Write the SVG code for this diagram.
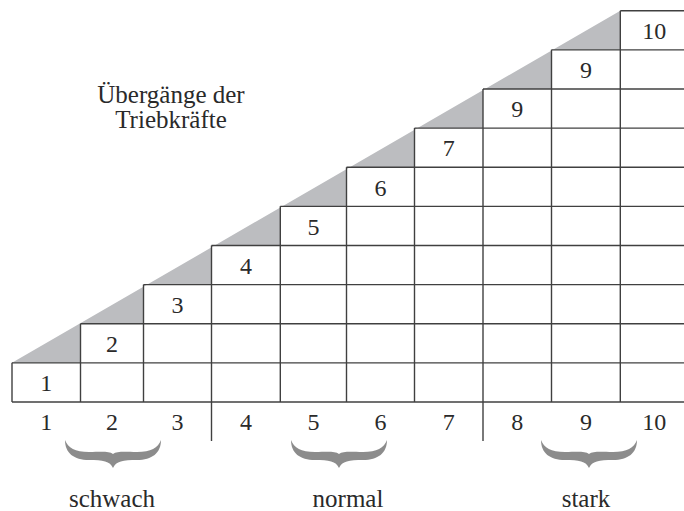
<svg xmlns="http://www.w3.org/2000/svg" width="684" height="511" viewBox="0 0 684 511">
  <style>
    .t { font-size: 24px; fill: #2a2a2a; text-anchor: middle; }
    .w { font-size: 25px; fill: #2a2a2a; text-anchor: middle; }
    .g { stroke: #404040; stroke-width: 1.4; fill: none; }
    .brace { fill: #8c8c8c; }
  </style>
  <defs>
    <path id="brace" d="M0,0 C0,13 9,20 24,20 C38,20 45,21 48,28 C51,21 58,20 72,20 C87,20 96,13 96,0 C93,8 86,12 72,12 C60,12 52,11 48,14 C44,11 36,12 24,12 C10,12 3,8 0,0 Z"/>
  </defs>
  <rect width="684" height="511" fill="#ffffff"/>

  <g id="shading">
    <polygon fill="#bcbdc0" points="12,362.87 620.3,10.7 620.3,49.83 551.5,49.83 551.5,88.96 483,88.96 483,128.09 414.5,128.09 414.5,167.22 346.5,167.22 346.5,206.35 280.3,206.35 280.3,245.48 211.5,245.48 211.5,284.61 143.5,284.61 143.5,323.74 80.5,323.74 80.5,362.87"/>
  </g>

  <g id="grid" class="g">
    <line x1="12" y1="402" x2="688" y2="402"/>
    <line x1="12" y1="362.87" x2="688" y2="362.87"/>
    <line x1="80.5" y1="323.74" x2="688" y2="323.74"/>
    <line x1="143.5" y1="284.61" x2="688" y2="284.61"/>
    <line x1="211.5" y1="245.48" x2="688" y2="245.48"/>
    <line x1="280.3" y1="206.35" x2="688" y2="206.35"/>
    <line x1="346.5" y1="167.22" x2="688" y2="167.22"/>
    <line x1="414.5" y1="128.09" x2="688" y2="128.09"/>
    <line x1="483" y1="88.96" x2="688" y2="88.96"/>
    <line x1="551.5" y1="49.83" x2="688" y2="49.83"/>
    <line x1="620.3" y1="10.7" x2="688" y2="10.7"/>
    <line x1="12" y1="402" x2="12" y2="362.87"/>
    <line x1="80.5" y1="402" x2="80.5" y2="323.74"/>
    <line x1="143.5" y1="402" x2="143.5" y2="284.61"/>
    <line x1="211.5" y1="441" x2="211.5" y2="245.48"/>
    <line x1="280.3" y1="402" x2="280.3" y2="206.35"/>
    <line x1="346.5" y1="402" x2="346.5" y2="167.22"/>
    <line x1="414.5" y1="402" x2="414.5" y2="128.09"/>
    <line x1="483" y1="441" x2="483" y2="88.96"/>
    <line x1="551.5" y1="402" x2="551.5" y2="49.83"/>
    <line x1="620.3" y1="402" x2="620.3" y2="10.7"/>
    <line x1="688" y1="402" x2="688" y2="10.7"/>
  </g>

  <g id="texts" font-family="'Liberation Serif', 'Times New Roman', 'DejaVu Serif', serif">
  <g id="cell-labels">
    <text class="t" x="46.25" y="391">1</text>
    <text class="t" x="112" y="352">2</text>
    <text class="t" x="177.5" y="313">3</text>
    <text class="t" x="245.9" y="273.8">4</text>
    <text class="t" x="313.4" y="234.6">5</text>
    <text class="t" x="380.5" y="195.5">6</text>
    <text class="t" x="448.75" y="156.4">7</text>
    <text class="t" x="517.25" y="117.3">9</text>
    <text class="t" x="585.9" y="78.1">9</text>
    <text class="t" x="654.15" y="39">10</text>
  </g>

  <g id="axis-labels">
    <text class="t" x="46.25" y="430">1</text>
    <text class="t" x="112" y="430">2</text>
    <text class="t" x="177.5" y="430">3</text>
    <text class="t" x="245.9" y="430">4</text>
    <text class="t" x="313.4" y="430">5</text>
    <text class="t" x="380.5" y="430">6</text>
    <text class="t" x="448.75" y="430">7</text>
    <text class="t" x="517.25" y="430">8</text>
    <text class="t" x="585.9" y="430">9</text>
    <text class="t" x="654.15" y="430">10</text>
  </g>

  <g id="title">
    <text class="w" x="171" y="102.5">Übergänge der</text>
    <text class="w" x="171" y="128">Triebkräfte</text>
  </g>

  <g id="groups">
    <use href="#brace" class="brace" transform="translate(65,440)"/>
    <use href="#brace" class="brace" transform="translate(291,440)"/>
    <use href="#brace" class="brace" transform="translate(541,440)"/>
    <text class="w" x="112" y="507">schwach</text>
    <text class="w" x="348" y="507">normal</text>
    <text class="w" x="586" y="507">stark</text>
  </g>
  </g>
</svg>
